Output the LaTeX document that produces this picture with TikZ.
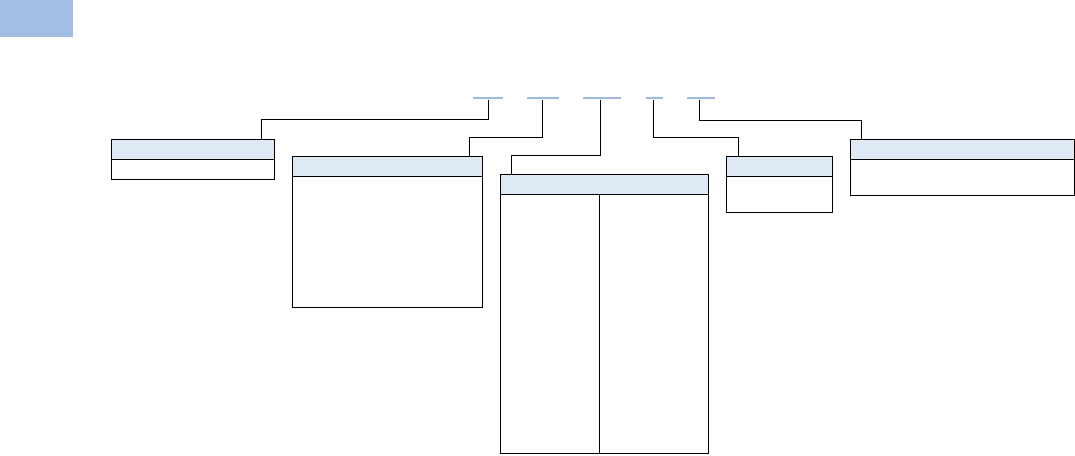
\documentclass[tikz,border=0pt]{standalone}
\usetikzlibrary{calc}
\definecolor{cornerblue}{HTML}{A3BEE4}
\definecolor{hdrfill}{HTML}{DFE9F5}
\definecolor{ulblue}{HTML}{9DB9E2}
\tikzset{
  box/.style={draw=black, line width=0.8pt, fill=white, inner sep=0pt, outer sep=0pt, anchor=north west, rectangle},
  hdr/.style={draw=black, line width=0.8pt, fill=hdrfill, inner sep=0pt, outer sep=0pt, anchor=north west, rectangle, minimum height=20pt},
  conn/.style={draw=black, line width=0.8pt},
  uline/.style={draw=ulblue, line width=1.6pt},
}
\begin{document}
\begin{tikzpicture}[x=1pt,y=-1pt]
\useasboundingbox (0,0) rectangle (1075,455);
% corner block
\fill[cornerblue] (0,0) rectangle (72.7,36.5);
% underlines
\draw[uline] (473,97.7) -- (503,97.7);
\draw[uline] (527,97.7) -- (559,97.7);
\draw[uline] (583,97.7) -- (621,97.7);
\draw[uline] (645.7,97.7) -- (663,97.7);
\draw[uline] (687,97.7) -- (715,97.7);
\coordinate (u1) at (488.3,100);
\coordinate (u2) at (542.3,100);
\coordinate (u3) at (600.3,100);
\coordinate (u4) at (653.7,100);
\coordinate (u5) at (699,100);
% box 1
\node[box, minimum width=163pt, minimum height=40pt] (b1) at (111.3,139.3) {};
\node[hdr, minimum width=163pt] (h1) at (b1.north west) {};
% box 2
\node[box, minimum width=190pt, minimum height=151pt] (b2) at (292.3,156.3) {};
\node[hdr, minimum width=190pt] (h2) at (b2.north west) {};
% box 3
\node[box, minimum width=208.4pt, minimum height=279.4pt] (b3) at (500.3,174.3) {};
\node[hdr, minimum width=208.4pt] (h3) at (b3.north west) {};
\draw[conn] ([xshift=99pt]h3.south west) -- ([xshift=99pt]b3.south west);
% box 4
\node[box, minimum width=105.6pt, minimum height=55.3pt] (b4) at (726.7,156.7) {};
\node[hdr, minimum width=105.6pt, minimum height=19.6pt] (h4) at (b4.north west) {};
% box 5
\node[box, minimum width=223.7pt, minimum height=55.6pt] (b5) at (850.3,139.7) {};
\node[hdr, minimum width=223.7pt, minimum height=19.6pt] (h5) at (b5.north west) {};
% connectors
\draw[conn] (u1) -- ++(0,19.3) -| ([xshift=150pt]h1.north west);
\draw[conn] (u2) -- ++(0,37.7) -| ([xshift=177pt]h2.north west);
\draw[conn] (u3) -- ++(0,55) -| ([xshift=11pt]h3.north west);
\draw[conn] (u4) -- ++(0,37) -| ([xshift=11.6pt]h4.north west);
\draw[conn] (u5) -- ++(0,20.3) -| ([xshift=11.4pt]h5.north west);
\end{tikzpicture}
\end{document}
